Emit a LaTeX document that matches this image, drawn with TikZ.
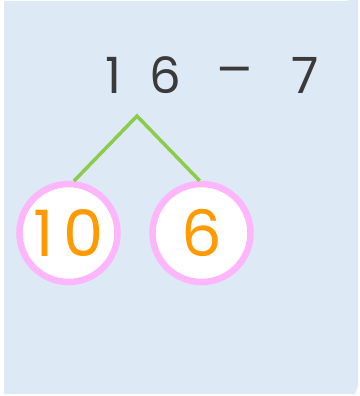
\documentclass[tikz,border=0pt]{standalone}
\usepackage{fontspec}
\setmainfont{Poppins}
\newfontfamily\symfont{DejaVu Sans}
\definecolor{bgblue}{HTML}{DDE9F5}
\definecolor{ink}{HTML}{3A3A3A}
\definecolor{leaf}{HTML}{8DCB4B}
\definecolor{ring}{HTML}{FDB6F9}
\definecolor{num}{HTML}{FF9A00}
\begin{document}
\begin{tikzpicture}[x=1pt,y=-1pt,
  eq/.style={text=ink,font=\fontsize{50}{50}\selectfont,inner sep=0pt,anchor=center},
  part/.style={circle,draw=ring,line width=6.5pt,fill=white,minimum size=98pt,inner sep=0pt,
    text=num,font=\fontsize{64}{64}\selectfont},
  branch/.style={draw=leaf,line width=3.5pt}]
\useasboundingbox (0,0) rectangle (359,396);
\fill[bgblue] (4,1) -- (346,1) arc[start angle=90,end angle=0,radius=12] -- (358,386) -- (355,394) -- (4,394) -- cycle;
\node[eq] (d1) at (113,75) {1};
\node[eq] (d6) at (165,75) {6};
\node[eq,font=\symfont\fontsize{46}{46}\selectfont] (mn) at (235,75) {−};
\node[eq] (d7) at (305,75) {7};
\coordinate (top) at (137,116);
\node[part] (left) at (68.5,233) {1\kern9pt0};
\node[part] (right) at (201.5,233) {6};
\draw[branch] (left.84) -- (top) -- (right.92);
\end{tikzpicture}
\end{document}
